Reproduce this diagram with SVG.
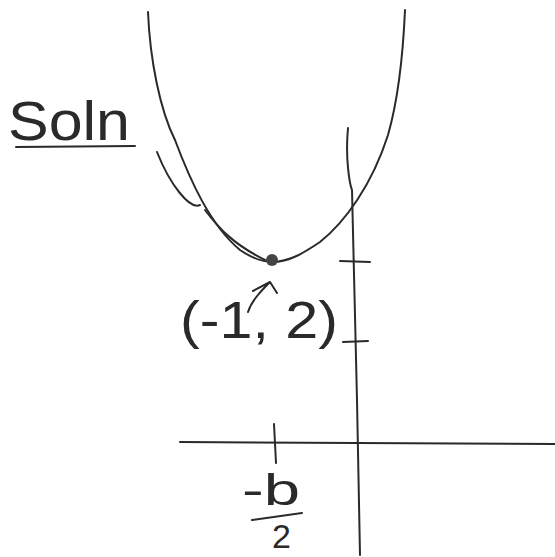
<svg xmlns="http://www.w3.org/2000/svg" width="555" height="557" viewBox="0 0 555 557">
<style>
.ink{fill:none;stroke:#2a2a2a;stroke-width:2;stroke-linecap:round;stroke-linejoin:round}
.txt{font-family:"Liberation Sans","DejaVu Sans",sans-serif;fill:#2a2a2a;font-weight:normal}
</style>
<rect width="555" height="557" fill="#fff"/>
<g id="title">
<text class="txt" x="8" y="140" font-size="56" textLength="122" lengthAdjust="spacingAndGlyphs">Soln</text>
<path class="ink" d="M16 147 L135 146"/>
</g>
<g id="curve">
<path class="ink" d="M148 12 C150 60 160 110 175 140 C190 180 210 225 240 250 C252 258 262 262 272 262 C290 262 305 252 320 242 C345 222 372 185 388 135 C398 100 403 55 405 10"/>
<path class="ink" d="M157 152 C170 185 190 210 200 205" stroke-width="1.2"/>
<path class="ink" d="M205 210 C220 230 235 245 265 260" stroke-width="1.2"/>
<circle cx="272" cy="260" r="6" fill="#444"/>
</g>
<g id="axes">
<path class="ink" d="M180 442 L555 444"/>
<path class="ink" d="M348 128 C345 160 350 185 352 190 L357 400 L360 555"/>
<path class="ink" d="M340 261 L370 262"/>
<path class="ink" d="M343 342 L368 341"/>
<path class="ink" d="M274 424 L276 463"/>
</g>
<g id="point-label">
<path class="ink" d="M248 312 C252 300 262 290 270 282 M253 291 L270 282 L277 293"/>
<text class="txt" x="180" y="338" font-size="52" textLength="158" lengthAdjust="spacingAndGlyphs">(-1, 2)</text>
</g>
<g id="vertex-x">
<text class="txt" x="242" y="505" font-size="44" textLength="58" lengthAdjust="spacingAndGlyphs">-b</text>
<path class="ink" d="M252 520 L302 513"/>
<text class="txt" x="272" y="548" font-size="34">2</text>
</g>
</svg>
